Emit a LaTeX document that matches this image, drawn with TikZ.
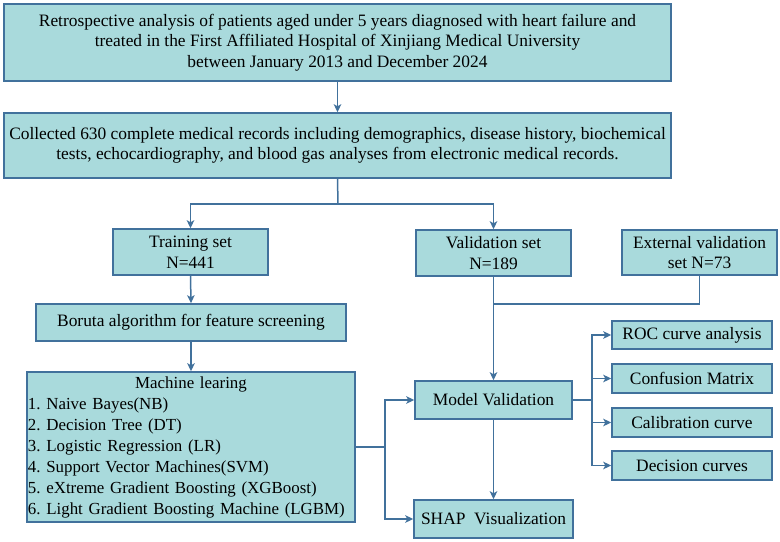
\documentclass[tikz,border=0pt]{standalone}
\usepackage{fontspec}
\setmainfont{Liberation Serif}
\usetikzlibrary{arrows.meta}
\definecolor{boxfill}{HTML}{A9DADC}
\definecolor{boxline}{HTML}{41719C}
\frenchspacing
\begin{document}
\begin{tikzpicture}[x=1bp,y=-1bp,
  box/.style={draw=boxline, fill=boxfill, line width=1.5bp, inner sep=0pt, align=center,
    font=\fontsize{17.4bp}{20.6bp}\selectfont},
  conn/.style={draw=boxline, line width=1.5bp},
  arr/.style={conn, -{Stealth[length=8bp,width=7.5bp,inset=2bp]}}]
\useasboundingbox (0,0) rectangle (780,542);
\node[box, minimum width=667bp, minimum height=77bp] (b1) at (337.5,42.5)
  {Retrospective analysis of patients aged under 5 years diagnosed with heart failure and\\
   treated in the First Affiliated Hospital of Xinjiang Medical University\\
   between January 2013 and December 2024};
\node[box, minimum width=667bp, minimum height=65bp] (b2) at (337.5,145.5)
  {Collected 630 complete medical records including demographics, disease history, biochemical\\
   tests, echocardiography, and blood gas analyses from electronic medical records.};
\node[box, minimum width=155bp, minimum height=46bp] (train) at (190.5,252) {Training set\\N=441};
\node[box, minimum width=155bp, minimum height=46bp] (val) at (493.5,253) {Validation set\\N=189};
\node[box, minimum width=155bp, minimum height=45bp] (ext) at (699.5,252.5) {External validation\\set N=73};
\node[box, minimum width=310bp, minimum height=37bp] (bor) at (191,322.5) {Boruta algorithm for feature screening};
\node[box, minimum width=328bp, minimum height=150bp, align=left, text width=326bp,
  font=\fontsize{16.9bp}{21bp}\selectfont] (ml) at (191,447)
  {\makebox[326bp][c]{Machine learing}\\
   1. Naive Bayes(NB)\\
   2. Decision Tree (DT)\\
   3. Logistic Regression (LR)\\
   4. Support Vector Machines(SVM)\\
   5. eXtreme Gradient Boosting (XGBoost)\\
   6. Light Gradient Boosting Machine (LGBM)};
\node[box, minimum width=157bp, minimum height=38bp] (mv) at (493.5,400) {Model Validation};
\node[box, minimum width=159bp, minimum height=38bp] (shap) at (493.5,519) {SHAP\ \ Visualization};
\node[box, minimum width=160bp, minimum height=28bp] (roc) at (692,335) {ROC curve analysis};
\node[box, minimum width=160bp, minimum height=29bp] (conf) at (692,378.5) {Confusion Matrix};
\node[box, minimum width=160bp, minimum height=29bp] (cal) at (692,422.5) {Calibration curve};
\node[box, minimum width=160bp, minimum height=29bp] (dec) at (692,465.5) {Decision curves};
\coordinate (split) at (338,204);
\coordinate (join) at (493,304);
\coordinate (mlb) at (385,447);
\coordinate (mvb) at (592,400);
\draw[arr] (b1.south) -- (b2.north);
\draw[conn] (b2.south) -- (split);
\draw[arr] (split) -| (train.north);
\draw[arr] (split) -| (val.north);
\draw[arr] (train.south) -- (bor.north);
\draw[arr] (bor.south) -- (ml.north);
\draw[arr] (val.south) -- (mv.north);
\draw[conn] (ext.south) |- (join);
\draw[conn] (ml.east) -- (mlb);
\draw[arr] (mlb) |- (mv.west);
\draw[arr] (mlb) |- (shap.west);
\draw[arr] (mv.south) -- (shap.north);
\draw[conn] (mv.east) -- (mvb);
\draw[arr] (mvb) |- (roc.west);
\draw[arr] (mvb) |- (conf.west);
\draw[arr] (mvb) |- (cal.west);
\draw[arr] (mvb) |- (dec.west);
\end{tikzpicture}
\end{document}
